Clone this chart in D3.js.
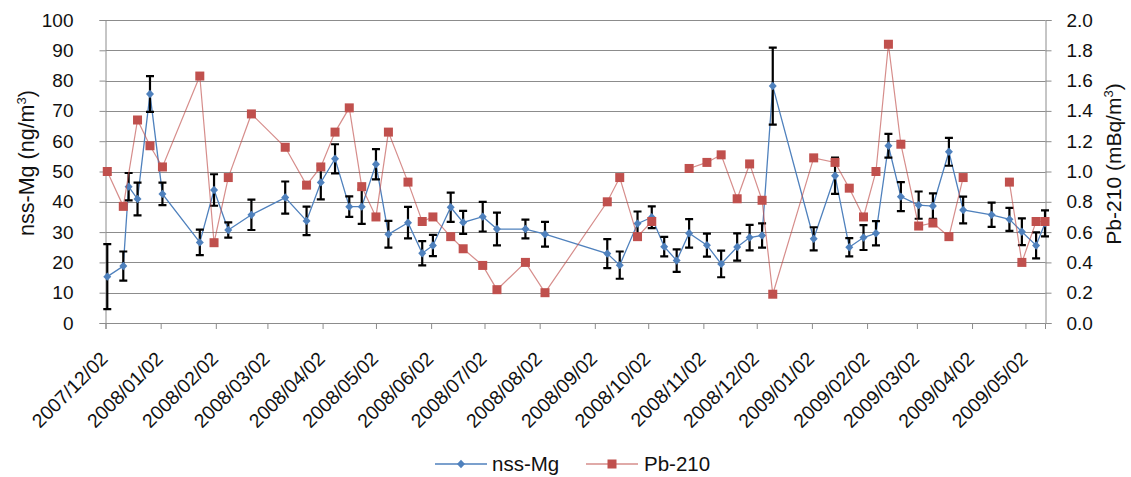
<!DOCTYPE html>
<html>
<head>
<meta charset="utf-8">
<script src="https://cdn.jsdelivr.net/npm/d3@7"></script>
<style>
  body { margin: 0; background: #fff; }
  svg text { font-family: "Liberation Sans", Arial, sans-serif; fill: #111; }
</style>
</head>
<body>
<svg id="chart" width="1131" height="477"></svg>
<script>
// nss-Mg sampling dates, concentrations (ng/m3) and error (±)
const mgDates = [
  "2007-12-03","2007-12-12","2007-12-15","2007-12-20","2007-12-27","2008-01-03","2008-01-24","2008-02-01",
  "2008-02-09","2008-02-22","2008-03-12","2008-03-24","2008-04-01","2008-04-09","2008-04-17","2008-04-24",
  "2008-05-02","2008-05-09","2008-05-20","2008-05-28","2008-06-03","2008-06-13","2008-06-20","2008-07-01",
  "2008-07-09","2008-07-25","2008-08-05","2008-09-09","2008-09-16","2008-09-26","2008-10-04","2008-10-11",
  "2008-10-18","2008-10-25","2008-11-04","2008-11-12","2008-11-21","2008-11-28","2008-12-05","2008-12-11",
  "2009-01-03","2009-01-15","2009-01-23","2009-01-31","2009-02-07","2009-02-14","2009-02-21","2009-03-03",
  "2009-03-11","2009-03-20","2009-03-28","2009-04-13","2009-04-23","2009-04-30","2009-05-08","2009-05-13"
];
const mgValues = [
  15.3,18.8,45.0,40.9,75.6,42.6,26.6,43.9,
  30.7,35.7,41.4,33.7,46.4,54.2,38.4,38.4,
  52.4,29.3,33.1,23.0,25.6,38.2,33.2,35.1,
  31.0,31.0,29.3,22.9,19.1,32.8,34.9,25.2,
  20.6,29.6,25.7,19.5,25.1,28.2,28.9,78.2,
  27.8,48.6,25.0,28.2,29.6,58.5,41.7,38.9,
  38.6,56.5,37.3,35.7,34.2,30.1,25.6,32.9
];
const mgErrors = [
  10.7,4.8,4.5,5.4,5.9,3.7,4.2,5.2,
  2.5,5.0,5.3,4.7,5.6,4.8,3.4,5.7,
  5.0,4.4,5.2,4.0,3.5,4.8,3.8,4.9,
  5.4,3.1,4.1,4.8,4.5,4.0,3.6,3.2,
  3.7,4.7,3.8,4.4,4.5,4.2,4.0,12.7,
  3.8,6.0,3.0,4.1,4.0,3.9,4.8,4.5,
  4.2,4.6,4.4,4.0,3.8,4.4,4.3,4.3
];

// Pb-210 sampling dates and activities (mBq/m3); null = no sample (line breaks)
const pbDates = [
  "2007-12-03","2007-12-12","2007-12-20","2007-12-27","2008-01-03","2008-01-24","2008-02-01","2008-02-09",
  "2008-02-22","2008-03-12","2008-03-24","2008-04-01","2008-04-09","2008-04-17","2008-04-24","2008-05-02",
  "2008-05-09","2008-05-20","2008-05-28","2008-06-03","2008-06-13","2008-06-20","2008-07-01","2008-07-09",
  "2008-07-25","2008-08-05","2008-09-09","2008-09-16","2008-09-26","2008-10-04","2008-10-11","2008-10-25",
  "2008-11-04","2008-11-12","2008-11-21","2008-11-28","2008-12-05","2008-12-11","2009-01-03","2009-01-15",
  "2009-01-23","2009-01-31","2009-02-07","2009-02-14","2009-02-21","2009-03-03","2009-03-11","2009-03-20",
  "2009-03-28","2009-04-13","2009-04-23","2009-04-30","2009-05-08","2009-05-13"
];
const pbValues = [
  1.00,0.77,1.34,1.17,1.03,1.63,0.53,0.96,
  1.38,1.16,0.91,1.03,1.26,1.42,0.90,0.70,
  1.26,0.93,0.67,0.70,0.57,0.49,0.38,0.22,
  0.40,0.20,0.80,0.96,0.57,0.67,null,1.02,
  1.06,1.11,0.82,1.05,0.81,0.19,1.09,1.06,
  0.89,0.70,1.00,1.84,1.18,0.64,0.66,0.57,
  0.96,null,0.93,0.40,0.67,0.67
];

const xTickLabels = [
  "2007/12/02","2008/01/02","2008/02/02","2008/03/02","2008/04/02","2008/05/02","2008/06/02","2008/07/02",
  "2008/08/02","2008/09/02","2008/10/02","2008/11/02","2008/12/02","2009/01/02","2009/02/02","2009/03/02",
  "2009/04/02","2009/05/02"
];
const mgTicks = [0,10,20,30,40,50,60,70,80,90,100];
const pbTicks = [0,0.2,0.4,0.6,0.8,1.0,1.2,1.4,1.6,1.8,2.0];

const parseDay = d3.utcParse("%Y-%m-%d");
const parseTick = d3.utcParse("%Y/%m/%d");

const svg = d3.select("#chart");
const plotLeft = 105.5, plotRight = 1045.5, plotTop = 20, plotBottom = 323;

const x = d3.scaleUtc()
  .domain([parseTick(xTickLabels[0]), parseDay(mgDates[mgDates.length - 1])])
  .range([plotLeft, plotRight - 0.5]);
const yMg = d3.scaleLinear().domain([0, 100]).range([plotBottom, plotTop]);
const yPb = d3.scaleLinear().domain([0, 2]).range([plotBottom, plotTop]);

const mg = mgDates.map((d, i) => ({ date: parseDay(d), v: mgValues[i], e: mgErrors[i] }));
const pb = pbDates.map((d, i) => ({ date: parseDay(d), v: pbValues[i] }));

const gridColor = "#8c8c8c";

// horizontal gridlines
svg.append("g")
  .selectAll("line")
  .data(mgTicks.slice(1))
  .join("line")
  .attr("x1", plotLeft).attr("x2", plotRight)
  .attr("y1", d => Math.round(yMg(d)) + 0.5).attr("y2", d => Math.round(yMg(d)) + 0.5)
  .attr("stroke", gridColor).attr("stroke-width", 1);

// left axis
const gLeft = svg.append("g").attr("transform", `translate(${plotLeft},0)`)
  .call(d3.axisLeft(yMg).tickValues(mgTicks).tickSize(6).tickPadding(26).tickFormat(d3.format("d")));
gLeft.selectAll("text").style("font-size", "19px").attr("fill", "#111");

// right axis
const gRight = svg.append("g").attr("transform", `translate(${plotRight},0)`)
  .call(d3.axisRight(yPb).tickValues(pbTicks).tickSize(6).tickPadding(15).tickFormat(d3.format(".1f")));
gRight.selectAll("text").style("font-size", "19px").attr("fill", "#111");

// bottom axis
const tickDates = xTickLabels.map(parseTick);
const gBottom = svg.append("g").attr("transform", `translate(0,${plotBottom})`)
  .call(d3.axisBottom(x).tickValues(tickDates).tickSize(6).tickFormat(d3.utcFormat("%Y/%m/%d")));
gBottom.selectAll("text")
  .style("font-size", "19.5px")
  .attr("text-anchor", "end")
  .attr("dy", 0)
  .attr("y", 0)
  .attr("transform", "translate(3,37) rotate(-45)");

[gLeft, gRight, gBottom].forEach(g => {
  g.select(".domain").attr("stroke", gridColor);
  g.selectAll(".tick line").attr("stroke", gridColor);
});

// nss-Mg series: line, error bars, diamond markers
const blue = "#4f81bd";
svg.append("path")
  .datum(mg)
  .attr("fill", "none")
  .attr("stroke", blue)
  .attr("stroke-width", 1.3)
  .attr("d", d3.line().x(d => x(d.date)).y(d => yMg(d.v)));

const eb = svg.append("g").attr("stroke", "#000").attr("stroke-width", 2.2).attr("fill", "none");
eb.selectAll("path")
  .data(mg)
  .join("path")
  .attr("d", d => {
    const cx = x(d.date), y1 = yMg(d.v + d.e), y2 = yMg(d.v - d.e);
    return `M${cx},${y1}V${y2}M${cx - 4},${y1}H${cx + 4}M${cx - 4},${y2}H${cx + 4}`;
  });

const diamond = "M0,-4.2L4,0L0,4.2L-4,0Z";
svg.append("g").selectAll("path")
  .data(mg)
  .join("path")
  .attr("d", diamond)
  .attr("transform", d => `translate(${x(d.date)},${yMg(d.v)})`)
  .attr("fill", blue);

// Pb-210 series: line and square markers
const red = "#c0504d";
svg.append("path")
  .datum(pb)
  .attr("fill", "none")
  .attr("stroke", red)
  .attr("stroke-opacity", 0.65)
  .attr("stroke-width", 1.2)
  .attr("d", d3.line().defined(d => d.v !== null).x(d => x(d.date)).y(d => yPb(d.v)));

svg.append("g").selectAll("rect")
  .data(pb.filter(d => d.v !== null))
  .join("rect")
  .attr("x", d => x(d.date) - 4.5)
  .attr("y", d => yPb(d.v) - 4.5)
  .attr("width", 9).attr("height", 9)
  .attr("fill", red);

// axis titles
const leftTitle = svg.append("text")
  .attr("transform", "translate(34,163) rotate(-90)")
  .attr("text-anchor", "middle")
  .style("font-size", "21.5px");
leftTitle.append("tspan").text("nss-Mg (ng/m");
leftTitle.append("tspan").attr("dy", -8).style("font-size", "13px").text("3");
leftTitle.append("tspan").attr("dy", 8).text(")");

const rightTitle = svg.append("text")
  .attr("transform", "translate(1121,164) rotate(-90)")
  .attr("text-anchor", "middle")
  .style("font-size", "21px");
rightTitle.append("tspan").text("Pb-210 (mBq/m");
rightTitle.append("tspan").attr("dy", -8).style("font-size", "13px").text("3");
rightTitle.append("tspan").attr("dy", 8).text(")");

// legend
const legend = svg.append("g");
legend.append("line").attr("x1", 435).attr("x2", 487).attr("y1", 464).attr("y2", 464)
  .attr("stroke", blue).attr("stroke-width", 1.5);
legend.append("path").attr("d", diamond).attr("transform", "translate(461,464)").attr("fill", blue);
legend.append("text").attr("x", 492).attr("y", 471).style("font-size", "20.5px").text("nss-Mg");
legend.append("line").attr("x1", 586).attr("x2", 638).attr("y1", 464).attr("y2", 464)
  .attr("stroke", red).attr("stroke-opacity", 0.65).attr("stroke-width", 1.5);
legend.append("rect").attr("x", 607.5).attr("y", 459.5).attr("width", 9).attr("height", 9).attr("fill", red);
legend.append("text").attr("x", 644).attr("y", 471).style("font-size", "20.5px").text("Pb-210");
</script>
</body>
</html>
